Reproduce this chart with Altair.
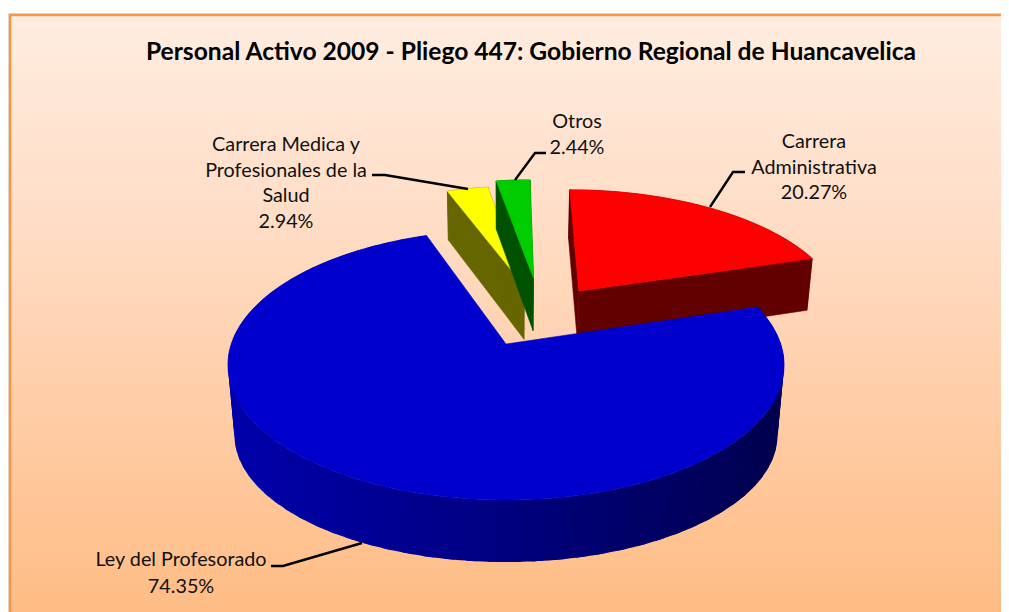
import math
import altair as alt
import pandas as pd

# ---- data ----
TITLE = "Personal Activo 2009 - Pliego 447: Gobierno Regional de Huancavelica"
names = ["Carrera Administrativa", "Ley del Profesorado",
         "Carrera Medica y Profesionales de la Salud", "Otros"]
values = [20.27, 74.35, 2.94, 2.44]
label_lines = [["Carrera", "Administrativa"], ["Ley del Profesorado"],
               ["Carrera Medica y", "Profesionales de la", "Salud"], ["Otros"]]
explode = [0.2525, 0.2525, 0.2525, 0.318]
top_colors = ["#FF0000", "#0000CC", "#FFFF00", "#00CC00"]
wall_colors = ["#620000", "#000080", "#666600", "#005200"]
blue_wall_shades = [0xAC, 0x7E, 0x4C]  # blue channel: left, middle, right of the wall

# where labels sit (image pixels): centre x, first-line y, line step
label_pos = [(814, 142, 25.5), (181, 560, 27), (286, 145, 25.7), (577, 122, 26)]
leaders = [
    [(745, 172), (733, 172), (710, 207)],
    [(271, 566), (283, 566), (362, 543)],
    [(372, 175), (385, 175), (468, 189)],
    [(546, 153), (535, 153), (515, 180)],
]

# ---- the perspective of the 3-D pie ----
W, H = 993, 604
CX, K = 506, 0.155
SKEW = 0.019
TOP = dict(y0=344.0, a=131.8, rx=274.7)
BOT = dict(y0=399.4, a=137.4, rx=270.0)
BLUE_BOT = dict(y0=415.3, a=123.95, rx=268.2)


def proj(u, v, lv):
    w = 1 / (1 + K * v)
    return [CX + lv["rx"] * u * w, lv["y0"] - lv["a"] * v * w]


def feature(ring, color):
    ring = ring + [ring[0]]
    return {"type": "Feature", "properties": {"color": color},
            "geometry": {"type": "Polygon", "coordinates": [ring]}}


total = sum(values)
spans = []
a = 0.0
for val in values:
    b = a + val / total * 360
    spans.append((a, b))
    a = b

mid_blue = math.radians(sum(spans[1]) / 2)
shift_blue = (explode[1] * math.sin(mid_blue), explode[1] * math.cos(mid_blue))


def slice_parts(i, bottom, skew):
    a0, a1 = spans[i]
    mid = math.radians((a0 + a1) / 2)
    ox = explode[i] * math.sin(mid) - shift_blue[0] + skew
    oy = explode[i] * math.cos(mid) - shift_blue[1]
    n = max(8, int(a1 - a0))
    arc = [(ox + math.sin(math.radians(a0 + (a1 - a0) * j / n)),
            oy + math.cos(math.radians(a0 + (a1 - a0) * j / n))) for j in range(n + 1)]
    top_arc = [proj(u, v, TOP) for u, v in arc]
    bot_arc = [proj(u, v, bottom) for u, v in arc]
    ap_t, ap_b = proj(ox, oy, TOP), proj(ox, oy, bottom)
    side0 = [ap_t, top_arc[0], bot_arc[0], ap_b]
    side1 = [ap_t, top_arc[-1], bot_arc[-1], ap_b]
    top = [ap_t] + top_arc
    return top_arc, bot_arc, side0, side1, top


def shade(x):
    t = min(1.0, max(0.0, (x - 227) / 557))
    lo, mid, hi = blue_wall_shades
    val = lo + (mid - lo) * t * 2 if t < 0.5 else mid + (hi - mid) * (t - 0.5) * 2
    return f"#0000{int(round(val)):02X}"


back = []
for i in [0, 2, 3]:
    ta, ba, s0, s1, top = slice_parts(i, BOT, SKEW)
    c = wall_colors[i]
    back += [feature(ta + ba[::-1], c), feature(s0, c), feature(s1, c), feature(top, top_colors[i])]

ta, ba, s0, s1, top = slice_parts(1, BLUE_BOT, 0.0)
blue_wall_feat = []
# bands overlap their neighbours (and run thick) so no seams show between shades
step = 4
for j in range(0, len(ta) - 1, step):
    j2 = min(j + step + 2, len(ta) - 1)
    quad = ta[j:j2 + 1] + ba[j:j2 + 1][::-1]
    blue_wall_feat.append(feature(quad, shade(sum(p[0] for p in quad) / len(quad))))
blue_top = [feature(top, top_colors[1])]

projection = dict(type="identity", scale=1, translate=[-8, -8])


def shapes(feats, sw=0.6):
    return (alt.Chart(alt.Data(values=feats)).mark_geoshape(strokeWidth=sw)
            .encode(fill=alt.Fill("properties.color:N", scale=None),
                    stroke=alt.Stroke("properties.color:N", scale=None))
            .project(**projection))


xs = alt.Scale(domain=[8, 8 + W], nice=False, zero=False)
ys = alt.Scale(domain=[8 + H, 8], nice=False, zero=False)

bg_df = pd.DataFrame([{"x": 10, "x2": 1040, "y": 15, "y2": 640}])
shadow_df = pd.DataFrame([{"x": 8, "x2": 1040, "y": 13, "y2": 640}])
shadow = (alt.Chart(shadow_df).mark_rect(color="#E9E6E3", clip=True)
          .encode(x=alt.X("x:Q", scale=xs, axis=None), x2="x2:Q",
                  y=alt.Y("y:Q", scale=ys, axis=None), y2="y2:Q"))
bg = (alt.Chart(bg_df).mark_rect(
        clip=True, stroke="#F79646", strokeWidth=2.5,
        fill={"gradient": "linear", "x1": 0, "y1": 0, "x2": 0, "y2": 1,
              "stops": [{"offset": 0, "color": "#FFEDE0"},
                        {"offset": 0.35, "color": "#FFDCC4"},
                        {"offset": 1, "color": "#FFBA80"}]})
      .encode(x=alt.X("x:Q", scale=xs, axis=None), x2="x2:Q",
              y=alt.Y("y:Q", scale=ys, axis=None), y2="y2:Q"))

line_rows = []
for i, pts in enumerate(leaders):
    for j, (x, y) in enumerate(pts):
        line_rows.append({"s": names[i], "o": j, "x": x, "y": y})
lines = (alt.Chart(pd.DataFrame(line_rows)).mark_line(color="black", strokeWidth=2.4)
         .encode(x=alt.X("x:Q", scale=xs, axis=None), y=alt.Y("y:Q", scale=ys, axis=None),
                 detail="s:N", order="o:Q"))

text_rows = []
for i, (cx, y0, lstep) in enumerate(label_pos):
    rows = label_lines[i] + [f"{values[i]:.2f}%"]
    for j, t in enumerate(rows):
        text_rows.append({"t": t, "x": cx, "y": y0 + j * lstep})
labels = (alt.Chart(pd.DataFrame(text_rows))
          .mark_text(font="Lato", fontSize=19.8, color="#111111", align="center", baseline="middle")
          .encode(x=alt.X("x:Q", scale=xs, axis=None), y=alt.Y("y:Q", scale=ys, axis=None), text="t:N"))

title = (alt.Chart(pd.DataFrame([{"t": TITLE, "x": 531, "y": 53}]))
         .mark_text(font="Lato", fontSize=24.6, fontWeight="bold", color="black",
                    align="center", baseline="middle")
         .encode(x=alt.X("x:Q", scale=xs, axis=None), y=alt.Y("y:Q", scale=ys, axis=None), text="t:N"))

chart = (alt.layer(shadow, bg, shapes(back), shapes(blue_wall_feat, 0), shapes(blue_top), lines, labels, title)
         .properties(width=W, height=H, padding=0, background="white")
         .configure_view(stroke=None))

chart.save("out.html", embed_options={"renderer": "svg", "actions": False})
